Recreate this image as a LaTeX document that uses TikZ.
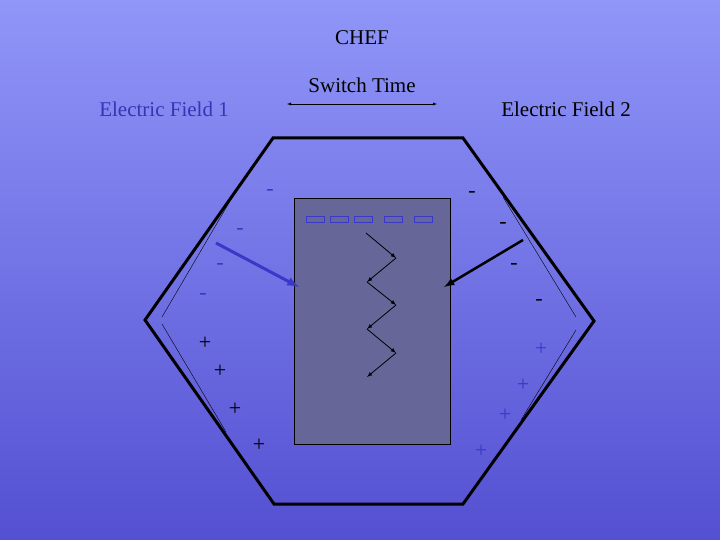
\documentclass[tikz,border=0pt]{standalone}
\usepackage{fontspec}
\setmainfont{Liberation Serif}
\definecolor{bgtop}{HTML}{9096F8}
\definecolor{bgbot}{HTML}{5450D2}
\definecolor{gel}{HTML}{666699}
\definecolor{bluel}{HTML}{3A38C8}
\definecolor{ttl}{HTML}{3535B5}
\begin{document}
\begin{tikzpicture}[x=1pt,y=-1pt,
  lbl/.style={font=\fontsize{21}{24}\selectfont},
  sgn/.style={font=\fontsize{22}{24}\selectfont},
  zz/.style={-latex,thick,black}]
\useasboundingbox (0,0) rectangle (720,540);
\shade[top color=bgtop,bottom color=bgbot] (0,0) rectangle (720,540);
% hexagon
\draw[line width=3pt,line join=miter] (273,138) -- (463,138) -- (594,321) -- (463,504) -- (274,504) -- (145,320) -- cycle;
% electrodes
\draw[thin] (233,196) -- (162,317);
\draw[thin] (162,324) -- (226,432);
\draw[thin] (503,197) -- (576,317);
\draw[thin] (576,330) -- (521,420);
% gel
\node[draw=black,fill=gel,minimum width=156pt,minimum height=246pt,inner sep=0pt,anchor=north west] (gel) at (294,198) {};
\foreach \x/\n in {306/w1,330/w2,354/w3,384/w4,414/w5}
  \node[draw=bluel,thin,minimum width=18pt,minimum height=6pt,inner sep=0pt,anchor=north west] (\n) at (\x,216) {};
% zigzag
\coordinate (z0) at (366,233); \coordinate (z1) at (396,258);
\coordinate (z2) at (367,282); \coordinate (z3) at (396,305);
\coordinate (z4) at (367,329); \coordinate (z5) at (396,353);
\coordinate (z6) at (367,377);
\draw[zz] (z0) -- (z1); \draw[zz] (z1) -- (z2); \draw[zz] (z2) -- (z3);
\draw[zz] (z3) -- (z4); \draw[zz] (z4) -- (z5); \draw[zz] (z5) -- (z6);
% field arrows
\coordinate (a1) at (216,243); \coordinate (a1e) at (299,287);
\draw[-latex,line width=3pt,bluel] (a1) -- (a1e);
\coordinate (a2) at (523,240); \coordinate (a2e) at (444,287);
\draw[-latex,line width=2.5pt,black] (a2) -- (a2e);
% labels
\node[lbl] (chef) at (362,38) {CHEF};
\node[lbl] (sw) at (362,85) {Switch Time};
\coordinate (s1) at (287,104); \coordinate (s2) at (437,104);
\draw[latex-latex,thin] (s1) -- (s2);
\node[lbl,text=ttl] (ef1) at (164,109) {Electric Field 1};
\node[lbl] (ef2) at (566,109) {Electric Field 2};
% signs
\foreach \x/\y [count=\i] in {270/192,240/231,220/266,203/296}
  \node[sgn,text=bluel] (ml\i) at (\x,\y) {-};
\foreach \x/\y [count=\i] in {472/194,503/225,514/266,539/302}
  \node[sgn] (mr\i) at (\x,\y) {-};
\foreach \x/\y [count=\i] in {205/343,220/371,235/409,259/445}
  \node[sgn] (pl\i) at (\x,\y) {+};
\foreach \x/\y [count=\i] in {541/349,523/385,505/415,481/451}
  \node[sgn,text=bluel] (pr\i) at (\x,\y) {+};
\end{tikzpicture}
\end{document}
